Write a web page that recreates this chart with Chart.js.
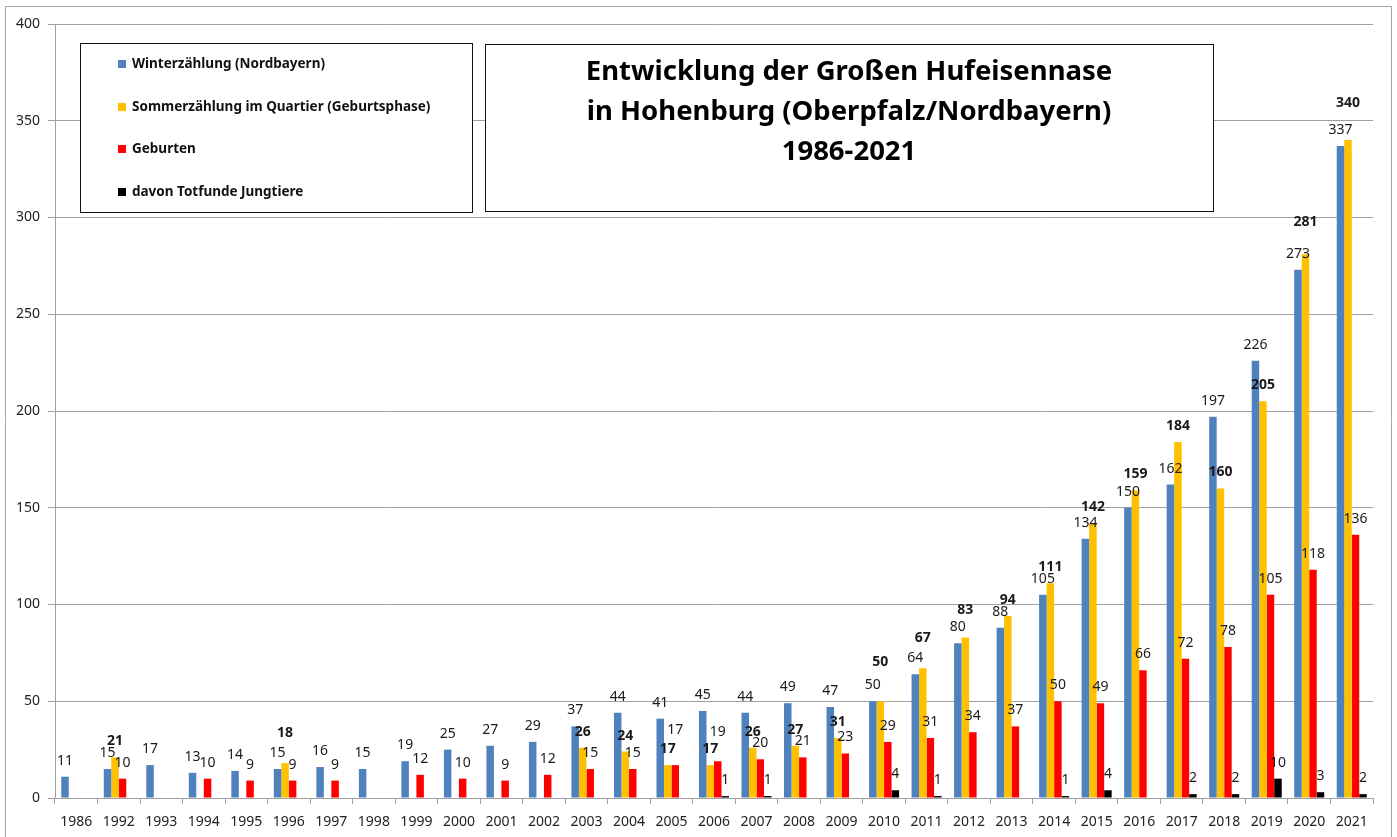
<!DOCTYPE html>
<html lang="de">
<head>
<meta charset="utf-8">
<title>Große Hufeisennase Hohenburg</title>
<script src="https://cdn.jsdelivr.net/npm/chart.js@4.4.1/dist/chart.umd.min.js"></script>
<style>
  html, body { margin: 0; padding: 0; background: #fff; }
  #wrap { width: 1397px; height: 837px; }
</style>
</head>
<body>
<div id="wrap"><canvas id="chart" width="1397" height="837"></canvas></div>
<script>
const years = ['1986', '1992', '1993', '1994', '1995', '1996', '1997', '1998', '1999', '2000',
  '2001', '2002', '2003', '2004', '2005', '2006', '2007', '2008', '2009', '2010',
  '2011', '2012', '2013', '2014', '2015', '2016', '2017', '2018', '2019', '2020', '2021'];

const winter = [11, 15, 17, 13, 14, 15, 16, 15, 19, 25,
  27, 29, 37, 44, 41, 45, 44, 49, 47, 50,
  64, 80, 88, 105, 134, 150, 162, 197, 226, 273, 337];

const summer = [null, 21, null, null, null, 18, null, null, null, null,
  null, null, 26, 24, 17, 17, 26, 27, 31, 50,
  67, 83, 94, 111, 142, 159, 184, 160, 205, 281, 340];

const births = [null, 10, null, 10, 9, 9, 9, null, 12, 10,
  9, 12, 15, 15, 17, 19, 20, 21, 23, 29,
  31, 34, 37, 50, 49, 66, 72, 78, 105, 118, 136];

const deadYoung = [null, null, null, null, null, null, null, null, null, null,
  null, null, null, null, null, 1, 1, null, null, 4,
  1, null, null, 1, 4, null, 2, 2, 10, 3, 2];

const seriesNames = ['Winterzählung (Nordbayern)', 'Sommerzählung im Quartier (Geburtsphase)',
  'Geburten', 'davon Totfunde Jungtiere'];
const seriesColors = ['#4f81bd', '#ffc000', '#ff0000', '#000000'];

const titleLines = ['Entwicklung der Großen Hufeisennase', 'in Hohenburg (Oberpfalz/Nordbayern)', '1986-2021'];

const yMax = 400;
const yStep = 50;

// some labels sit higher in the original (moved by hand there)
const labelLift = {
  1: { '1996': 14, '2010': 23, '2011': 14, '2012': 11, '2020': 16, '2021': 21 },
  2: { '2005': 19, '2006': 13 }
};

const FONT = '"Noto Sans", "Open Sans", sans-serif';

const frameAndBoxes = {
  id: 'frameAndBoxes',
  beforeDraw(chart) {
    const ctx = chart.ctx;
    ctx.save();
    ctx.fillStyle = '#fff';
    ctx.fillRect(0, 0, chart.width, chart.height);
    ctx.strokeStyle = '#a6a6a6';
    ctx.lineWidth = 1;
    ctx.beginPath();
    ctx.moveTo(5.5, chart.height);
    ctx.lineTo(5.5, 6.5);
    ctx.lineTo(1391.5, 6.5);
    ctx.lineTo(1391.5, chart.height);
    ctx.stroke();
    ctx.restore();
  },
  beforeDatasetsDraw(chart) {
    const ctx = chart.ctx;
    ctx.save();
    // legend box
    ctx.fillStyle = '#fff';
    ctx.fillRect(80, 43, 392, 169);
    ctx.strokeStyle = '#111';
    ctx.lineWidth = 1;
    ctx.strokeRect(80.5, 43.5, 392, 169);
    const rows = [64, 107, 149, 192];
    ctx.font = 'bold 13.5px ' + FONT;
    ctx.textBaseline = 'middle';
    ctx.textAlign = 'left';
    chart.data.datasets.forEach((ds, i) => {
      ctx.fillStyle = ds.backgroundColor;
      ctx.fillRect(118, rows[i] - 4, 8, 8);
      ctx.fillStyle = '#111';
      ctx.fillText(ds.label, 132, rows[i]);
    });
    // title box
    ctx.fillStyle = '#fff';
    ctx.fillRect(485, 44, 728, 167);
    ctx.strokeStyle = '#111';
    ctx.strokeRect(485.5, 44.5, 728, 167);
    ctx.fillStyle = '#000';
    ctx.textAlign = 'center';
    ctx.font = 'bold 27.5px ' + FONT;
    titleLines.forEach((line, i) => {
      ctx.fillText(line, 849, 72 + i * 40);
    });
    ctx.restore();
  }
};

const valueLabels = {
  id: 'valueLabels',
  afterDatasetsDraw(chart) {
    const ctx = chart.ctx;
    ctx.save();
    ctx.textAlign = 'center';
    ctx.textBaseline = 'middle';
    ctx.fillStyle = '#1a1a1a';
    chart.data.datasets.forEach((ds, di) => {
      const meta = chart.getDatasetMeta(di);
      ctx.font = (di === 1 ? 'bold ' : '') + '14px ' + FONT;
      meta.data.forEach((bar, i) => {
        const v = ds.data[i];
        if (v === null || v === undefined) return;
        const lift = (labelLift[di] && labelLift[di][years[i]]) || 0;
        ctx.fillText(String(v), bar.x, bar.y - 16 - lift);
      });
    });
    ctx.restore();
  }
};

const seriesData = [winter, summer, births, deadYoung];

new Chart(document.getElementById('chart'), {
  type: 'bar',
  data: {
    labels: years,
    datasets: seriesData.map((d, i) => ({
      label: seriesNames[i],
      data: d,
      backgroundColor: seriesColors[i],
      borderWidth: 0,
      categoryPercentage: 0.706,
      barPercentage: 1
    }))
  },
  options: {
    responsive: false,
    animation: false,
    devicePixelRatio: 1,
    layout: { padding: { left: 0, right: 24, top: 24, bottom: 0 } },
    plugins: {
      legend: { display: false },
      tooltip: { enabled: false },
      title: { display: false }
    },
    scales: {
      x: {
        grid: { display: true, drawOnChartArea: false, drawTicks: true, tickLength: 6, color: '#a0a0a0' },
        border: { color: '#a0a0a0' },
        ticks: { color: '#222', font: { family: FONT, size: 14 }, padding: 10, maxRotation: 0, autoSkip: false },
        afterFit(scale) { scale.height = 39; }
      },
      y: {
        min: 0,
        max: yMax,
        ticks: { stepSize: yStep, color: '#222', font: { family: FONT, size: 14 }, padding: 8 },
        grid: { color: '#a0a0a0', tickLength: 7 },
        border: { color: '#a0a0a0' },
        afterFit(scale) { scale.width = 55; }
      }
    }
  },
  plugins: [frameAndBoxes, valueLabels]
});
</script>
</body>
</html>
